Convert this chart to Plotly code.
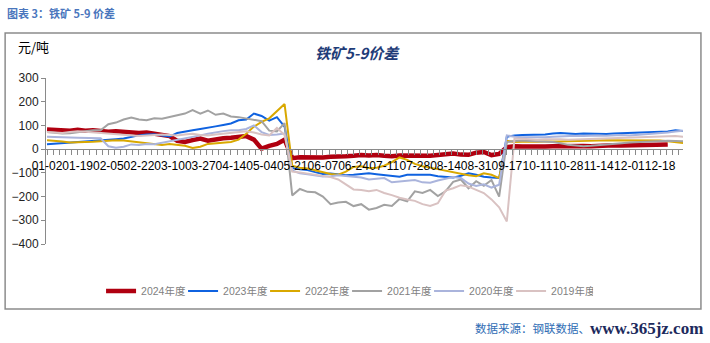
import plotly.graph_objects as go

dates = [
    "01-02", "01-06", "01-11", "01-15", "01-19", "01-23", "01-28", "02-01",
    "02-05", "02-09", "02-14", "02-18", "02-22", "02-26", "03-02", "03-06",
    "03-10", "03-14", "03-18", "03-22", "03-27", "03-31", "04-05", "04-09",
    "04-14", "04-18", "04-23", "04-28", "05-04", "05-08", "05-12", "05-17",
    "05-21", "05-25", "05-29", "06-02", "06-07", "06-11", "06-16", "06-20",
    "06-24", "06-28", "07-03", "07-07", "07-11", "07-15", "07-19", "07-24",
    "07-28", "08-01", "08-05", "08-10", "08-14", "08-18", "08-22", "08-27",
    "08-31", "09-04", "09-08", "09-13", "09-17", "09-21", "09-26", "10-06",
    "10-11", "10-15", "10-19", "10-24", "10-28", "11-01", "11-05", "11-10",
    "11-14", "11-18", "11-22", "11-27", "12-01", "12-05", "12-09", "12-14",
    "12-18", "12-22", "12-26", "12-30",
]

y2024 = [
    83, 82, 80, 78, 82, 78, 80, 76, 73, 75, 72, 70, 68, 70, 66, 62,
    55, 35, 30, 38, 45, 36, 42, 46, 48, 50, 55, 40, 2, 14, 22, 40,
    -38, -34, -35, -38, -35, -32, -33, -30, -28, -25, -27, -25, -28, -30, -27, -28,
    -26, -27, -28, -25, -20, -18, -23, -24, -15, -12, -25, -20, 8, 12,
    11, 10, 12, 11, 12, 13, 12, 14, 13, 12, 14, 15, 16, 15, 16, 17,
    18, 18, 19, 20, None, None,
]
y2023 = [
    21, 23, 28, 30, 31, 31, 33, 36, 38, 42, 45, 52, 58, 62, 63, 58,
    53, 68, 75, 80, 85, 92, 96, 102, 108, 122, 125, 150, 140, 120, 135, 95,
    -80, -85, -88, -97, -105, -103, -108, -110, -108, -104, -102, -106, -110, -114, -116, -108,
    -108, -110, -108, -114, -116, -120, -112, -102, -108, -116, -120, -122, 52, 58,
    60, 60, 61, 62, 66, 68, 66, 64, 66, 65, 66, 64, 66, 67, 66, 68,
    70, 72, 71, 74, 80, 76,
]
y2022 = [
    38, 36, 32, 28, 28, 30, 31, 33, 36, 38, 36, 32, 30, 25, 20, 18,
    22, 17, 14, 5, 10, 22, 24, 27, 30, 40, 65, 95, 115, 130, 160, 190,
    -70, -78, -82, -90, -100, -105, -108, -95, -75, -72, -80, -78, -70, -55, -35, -45,
    -62, -72, -78, -85, -90, -98, -104, -110, -114, -102, -108, -122, 35, 30,
    31, 30, 31, 32, 31, 32, 33, 33, 34, 35, 36, 37, 37, 38, 38, 37,
    38, 37, 36, 33, 28, 26,
]
y2021 = [
    72, 68, 66, 67, 72, 78, 80, 80, 105, 112, 125, 133, 125, 122, 130, 128,
    135, 144, 150, 165, 150, 163, 145, 150, 138, 135, 130, 123, 118, 78, 75, 110,
    -195, -168, -180, -182, -200, -232, -225, -222, -240, -232, -255, -248, -235, -240, -210, -220,
    -178, -185, -172, -198, -178, -138, -128, -165, -135, -155, -130, -200, 30, 34,
    36, 34, 33, 32, 30, 25, 18, 15, 12, 14, 16, 18, 20, 25, 28, 30,
    30, 32, 33, 35, 34, 33,
]
y2020 = [
    52, 52, 50, 49, 48, 48, 46, 46, 12, 6, 10, 20, 17, 22, 21, 27,
    33, 38, 43, 50, 58, 65, 72, 76, 80, 80, 85, 100, 72, 60, 62, 66,
    -90, -102, -106, -110, -115, -114, -110, -113, -116, -120, -128, -125, -122, -140, -137, -132,
    -130, -140, -142, -132, -125, -118, -122, -145, -155, -148, -162, -150, 58, 52,
    50, 50, 48, 50, 52, 54, 55, 56, 55, 57, 58, 56, 58, 60, 58, 60,
    62, 64, 66, 70, 74, 78,
]
y2019 = [
    72, 70, 68, 72, 75, 73, 70, 68, 66, 62, 60, 58, 55, 58, 60, 62,
    60, 58, 62, 65, 60, 58, 62, 66, 70, 72, 75, 70, 62, 58, 90, 60,
    -95, -98, -103, -106, -112, -118, -128, -150, -170, -172, -178, -172, -185, -194, -205, -212,
    -218, -232, -240, -228, -175, -165, -152, -158, -170, -185, -212, -245, -305, 45,
    44, 42, 40, 42, 43, 42, 40, 41, 42, 43, 44, 45, 44, 46, 47, 48,
    48, 50, 52, 53, 55, 52,
]

series = [
    ("2024年度", y2024, "#b00010", 4.5),
    ("2023年度", y2023, "#0f62e0", 2),
    ("2022年度", y2022, "#d9a800", 2),
    ("2021年度", y2021, "#a2a2a2", 2),
    ("2020年度", y2020, "#aab4dc", 2),
    ("2019年度", y2019, "#d9c2c2", 2),
]

tick_labels = dates[::4]
tick_pos = list(range(0, len(dates), 4))
xs = list(range(len(dates)))

fig = go.Figure()
for name, vals, color, w in series:
    fig.add_trace(go.Scatter(x=xs, y=vals, mode="lines", name=name,
                             line=dict(color=color, width=w), connectgaps=False))

W, H = 710, 343
ML, MR, MT, MB = 44, 27, 78, 99
PW, PH = W - ML - MR, H - MT - MB


def px(x):
    return (x - ML) / PW


def py(y):
    return (H - MB - y) / PH


fig.update_layout(
    width=W, height=H,
    margin=dict(l=ML, r=MR, t=MT, b=MB),
    paper_bgcolor="white", plot_bgcolor="white",
    font=dict(family="Liberation Sans, Arial, sans-serif", size=12, color="#000000"),
    showlegend=True,
    legend=dict(orientation="h", x=px(346), xanchor="center", y=py(291), yanchor="middle",
                font=dict(family="Liberation Sans, Noto Sans CJK SC", size=10.5, color="#7f7f7f"),
                bgcolor="rgba(0,0,0,0)", itemwidth=30, tracegroupgap=0,
                entrywidth=37, entrywidthmode="pixels"),
    xaxis=dict(range=[-0.13, 82.99], tickmode="array", tickvals=tick_pos, ticktext=tick_labels,
               showgrid=False, zeroline=False, showline=True, linecolor="#8a8a8a", linewidth=1,
               ticks="outside", ticklen=5, tickcolor="#8a8a8a", tickangle=0,
               tickfont=dict(size=12, color="#000000"),
               minor=dict(ticks="outside", ticklen=5, dtick=0.8, tick0=0, tickcolor="#8a8a8a"),
               anchor="free", position=400 / 700),
    yaxis=dict(range=[-400, 300], dtick=100, tick0=0, showgrid=False, zeroline=False,
               showline=True, linecolor="#8a8a8a", linewidth=1, ticks="outside", ticklen=4,
               tickcolor="#8a8a8a", tickfont=dict(size=12, color="#222222")),
    shapes=[dict(type="rect", xref="paper", yref="paper", x0=px(3), x1=px(701),
                 y0=py(309), y1=py(33), line=dict(color="#8c8c8c", width=1.5))],
    annotations=[
        dict(text="<b>图表 3：铁矿 5-9 价差</b>", xref="paper", yref="paper", x=px(3), y=py(13),
             xanchor="left", yanchor="middle", showarrow=False,
             font=dict(family="Noto Sans CJK SC", size=11, color="#4a76bd")),
        dict(text="元/吨", xref="paper", yref="paper", x=px(14), y=py(47),
             xanchor="left", yanchor="middle", showarrow=False,
             font=dict(family="Noto Sans CJK SC", size=13, color="#000000")),
        dict(text="<b><i>铁矿5-9价差</i></b>", xref="paper", yref="paper", x=px(356), y=py(52),
             xanchor="center", yanchor="middle", showarrow=False,
             font=dict(family="Noto Sans CJK SC", size=15, color="#1f3c78")),
        dict(text="数据来源：钢联数据、", xref="paper", yref="paper", x=px(472), y=py(328),
             xanchor="left", yanchor="middle", showarrow=False,
             font=dict(family="Noto Sans CJK SC", size=11.5, color="#2f6db5")),
        dict(text="<b>www.365jz.com</b>", xref="paper", yref="paper", x=px(588), y=py(328),
             xanchor="left", yanchor="middle", showarrow=False,
             font=dict(family="Liberation Serif", size=17, color="#1c2a5c")),
    ],
)

fig.write_html("out.html")
